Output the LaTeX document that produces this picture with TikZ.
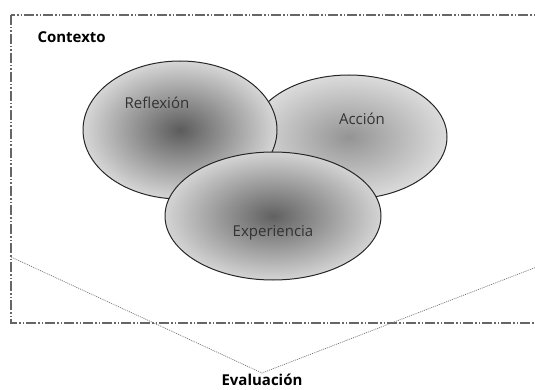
\documentclass[tikz,border=0pt]{standalone}
\usepackage{fontspec}
\setmainfont{Open Sans}
\usetikzlibrary{positioning,shapes.geometric}

\begin{document}
\begin{tikzpicture}[x=1pt,y=-1pt,every node/.style={font=\fontsize{15}{18}\selectfont},blob/.style={draw=black!85,line width=1pt,shape=ellipse,inner sep=0pt,shading=radial},tag/.style={text=black!80},head/.style={font=\fontsize{15}{18}\selectfont\bfseries},frame/.style={draw=black!60,line width=1.2pt,dash pattern=on 10pt off 2pt on 1.5pt off 2pt on 1.5pt off 2pt},dots/.style={draw=black!55,line width=0.7pt,dash pattern=on 1pt off 1pt}]
\clip (0,0) rectangle (535,390);
\draw[frame] (11,15) rectangle (560,323);
\node[head,anchor=west] (ctx) at (34,37) {Contexto};
% the three circles
\node[blob,minimum width=196pt,minimum height=124pt,inner color=black!42,outer color=black!14] (accion) at (349,137) {};
\node[blob,minimum width=194pt,minimum height=138pt,inner color=black!64,outer color=black!16] (refl) at (180,130) {};
\node[blob,minimum width=216pt,minimum height=128pt,inner color=black!62,outer color=black!17] (exper) at (273,216) {};
\node[tag] (taccion) at (362,119) {Acción};
\node[tag] (trefl) at (157,103) {Reflexión};
\node[tag] (texper) at (273,233) {Experiencia};
% evaluation
\coordinate (evl) at (11,257);
\coordinate (evv) at (262,373);
\coordinate (evr) at (560,258);
\draw[dots] (evl) -- (evv) -- (evr);
\node[head,anchor=base,inner sep=1pt] (eval) at (262,385) {Evaluación};
\end{tikzpicture}
\end{document}
